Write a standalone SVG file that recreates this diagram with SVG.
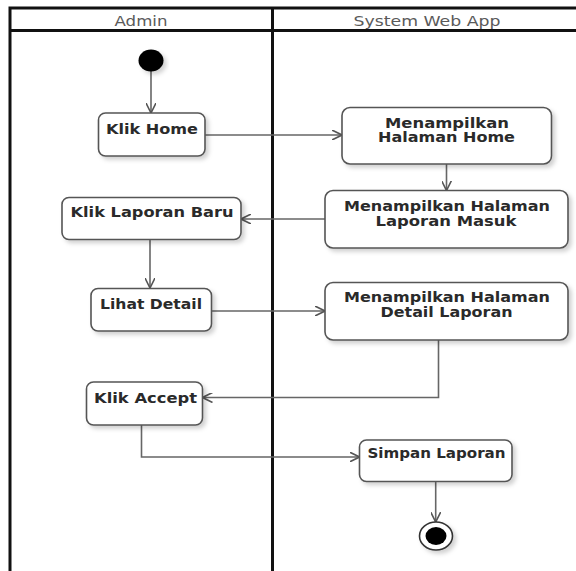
<svg xmlns="http://www.w3.org/2000/svg" width="576" height="571" viewBox="0 0 576 571">
<style>
.lane{fill:none;stroke:#111;stroke-width:3}
.hdr{font-family:"DejaVu Sans",sans-serif;font-size:13.5px;fill:#5a5a5a;text-anchor:middle}
.box{fill:#fff;stroke:#555;stroke-width:1.6;filter:url(#sh)}
.lbl{font-family:"DejaVu Sans",sans-serif;font-size:14px;font-weight:bold;fill:#2a2a2a;text-anchor:middle}
.con{fill:none;stroke:#666;stroke-width:1.6;marker-end:url(#arr)}
</style>
<defs>
<filter id="sh" x="-20%" y="-20%" width="140%" height="150%">
<feDropShadow dx="3" dy="3" stdDeviation="2" flood-color="#000" flood-opacity="0.18"/>
</filter>
<marker id="arr" viewBox="0 0 10 10" refX="10" refY="5" markerWidth="10" markerHeight="10" markerUnits="userSpaceOnUse" orient="auto">
<path d="M0,0 L10,5 L0,10" fill="none" stroke="#555" stroke-width="1.6"/>
</marker>
</defs>
<rect width="576" height="571" fill="#fff"/>
<g id="lanes">
<path class="lane" d="M10,571 V8 H576"/>
<path class="lane" d="M10,30.5 H576" stroke-width="2.5"/>
<path class="lane" d="M272.5,8 V571"/>
<text class="hdr" x="141" y="26" textLength="53" lengthAdjust="spacingAndGlyphs">Admin</text>
<text class="hdr" x="427" y="26" textLength="147" lengthAdjust="spacingAndGlyphs">System Web App</text>
</g>
<g id="connectors">
<path class="con" d="M151,71 V113"/>
<path class="con" d="M205,135 H342"/>
<path class="con" d="M446.5,164 V190.5"/>
<path class="con" d="M325,219 H241"/>
<path class="con" d="M150,239.5 V288"/>
<path class="con" d="M211.5,311 H325"/>
<path class="con" d="M438.5,340 V397.5 H202.5"/>
<path class="con" d="M141.5,425 V457 H359.5"/>
<path class="con" d="M435.7,482 V522"/>
</g>
<g id="start"><ellipse cx="151" cy="60.5" rx="12.5" ry="11" fill="#000" filter="url(#sh)"/></g>
<g id="klik-home">
<rect class="box" x="98.5" y="113" width="106.5" height="43" rx="7"/>
<text class="lbl" x="152" y="133.5" textLength="92" lengthAdjust="spacingAndGlyphs">Klik Home</text>
</g>
<g id="halaman-home">
<rect class="box" x="342" y="107.5" width="209.5" height="56.5" rx="8"/>
<text class="lbl" x="447" y="127.5" textLength="124" lengthAdjust="spacingAndGlyphs">Menampilkan</text>
<text class="lbl" x="446.5" y="142" textLength="137" lengthAdjust="spacingAndGlyphs">Halaman Home</text>
</g>
<g id="laporan-masuk">
<rect class="box" x="325" y="190.5" width="243" height="57.5" rx="8"/>
<text class="lbl" x="447" y="211" textLength="206" lengthAdjust="spacingAndGlyphs">Menampilkan Halaman</text>
<text class="lbl" x="446" y="226" textLength="141" lengthAdjust="spacingAndGlyphs">Laporan Masuk</text>
</g>
<g id="klik-laporan-baru">
<rect class="box" x="62" y="197.5" width="179" height="42" rx="7"/>
<text class="lbl" x="152" y="217" textLength="163" lengthAdjust="spacingAndGlyphs">Klik Laporan Baru</text>
</g>
<g id="lihat-detail">
<rect class="box" x="91" y="288.5" width="120.5" height="42.5" rx="7"/>
<text class="lbl" x="151" y="309" textLength="102" lengthAdjust="spacingAndGlyphs">Lihat Detail</text>
</g>
<g id="detail-laporan">
<rect class="box" x="325" y="282.5" width="243" height="57.5" rx="8"/>
<text class="lbl" x="447" y="302" textLength="206" lengthAdjust="spacingAndGlyphs">Menampilkan Halaman</text>
<text class="lbl" x="446.5" y="317" textLength="132" lengthAdjust="spacingAndGlyphs">Detail Laporan</text>
</g>
<g id="klik-accept">
<rect class="box" x="86.5" y="382" width="116" height="43" rx="7"/>
<text class="lbl" x="145.5" y="402.5" textLength="103" lengthAdjust="spacingAndGlyphs">Klik Accept</text>
</g>
<g id="simpan-laporan">
<rect class="box" x="359.5" y="440" width="152.5" height="41.5" rx="7"/>
<text class="lbl" x="436.5" y="458" textLength="138" lengthAdjust="spacingAndGlyphs">Simpan Laporan</text>
</g>
<g id="end">
<ellipse cx="436" cy="536" rx="16.5" ry="14" fill="#fff" stroke="#333" stroke-width="1.6" filter="url(#sh)"/>
<ellipse cx="436" cy="536" rx="10.5" ry="9" fill="#000"/>
</g>
</svg>
